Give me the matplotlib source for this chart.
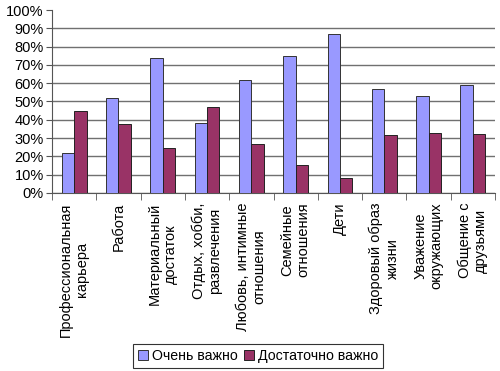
import numpy as np
import matplotlib
matplotlib.use('Agg')
import matplotlib.pyplot as plt
from matplotlib.ticker import FixedLocator, PercentFormatter

plt.rcParams['font.family'] = ['Liberation Sans', 'DejaVu Sans']

categories = ['Профессиональная\nкарьера', 'Работа', 'Материальный\nдостаток',
              'Отдых, хобби,\nразвлечения', 'Любовь, интимные\nотношения',
              'Семейные\nотношения', 'Дети', 'Здоровый образ\nжизни',
              'Уважение\nокружающих', 'Общение с\nдрузьями']
very_important = [22, 52, 74, 38, 62, 75, 87, 57, 53, 59]
rather_important = [45, 37.5, 24.5, 47, 26.5, 15.5, 8, 31.5, 33, 32]

fig = plt.figure(figsize=(5, 3.71), dpi=100)
ax = fig.add_axes([0.104, 0.48, 0.886, 0.493])

x = np.arange(len(categories))
w = 0.28
ax.bar(x - w / 2, very_important, w, color='#9999FF', edgecolor='#333333',
       linewidth=0.7, label='Очень важно', zorder=3)
ax.bar(x + w / 2, rather_important, w, color='#993366', edgecolor='#222222',
       linewidth=0.7, label='Достаточно важно', zorder=3)

ax.set_xlim(-0.5, len(categories) - 0.5)
ax.set_ylim(0, 100)
ax.set_yticks(np.arange(0, 101, 10))
ax.yaxis.set_major_formatter(PercentFormatter(decimals=0))
ax.yaxis.grid(True, color='#707070', linewidth=1.0, zorder=0)
ax.yaxis.get_gridlines()[-1].set_visible(False)

ax.set_xticks(x)
ax.set_xticklabels(categories, rotation=90, fontsize=10.5)
ax.tick_params(axis='x', which='major', length=0, pad=7)
ax.xaxis.set_minor_locator(FixedLocator(np.arange(-0.5, len(categories), 1)))
ax.tick_params(axis='x', which='minor', length=5, color='#555555')
ax.tick_params(axis='y', length=4, color='#555555', labelsize=10.5, pad=2)

for s in ['top', 'right']:
    ax.spines[s].set_visible(False)
for s in ['left', 'bottom']:
    ax.spines[s].set_color('#555555')

leg = fig.legend(loc='center', bbox_to_anchor=(0.516, 0.04), ncol=2,
                 fontsize=10.2, frameon=True, fancybox=False, handlelength=0.7,
                 handleheight=0.7, handletextpad=0.3, columnspacing=0.4,
                 borderpad=0.35, borderaxespad=0)
leg.get_frame().set_edgecolor('black')
leg.get_frame().set_linewidth(0.8)

fig.savefig('out.png', dpi=100)
